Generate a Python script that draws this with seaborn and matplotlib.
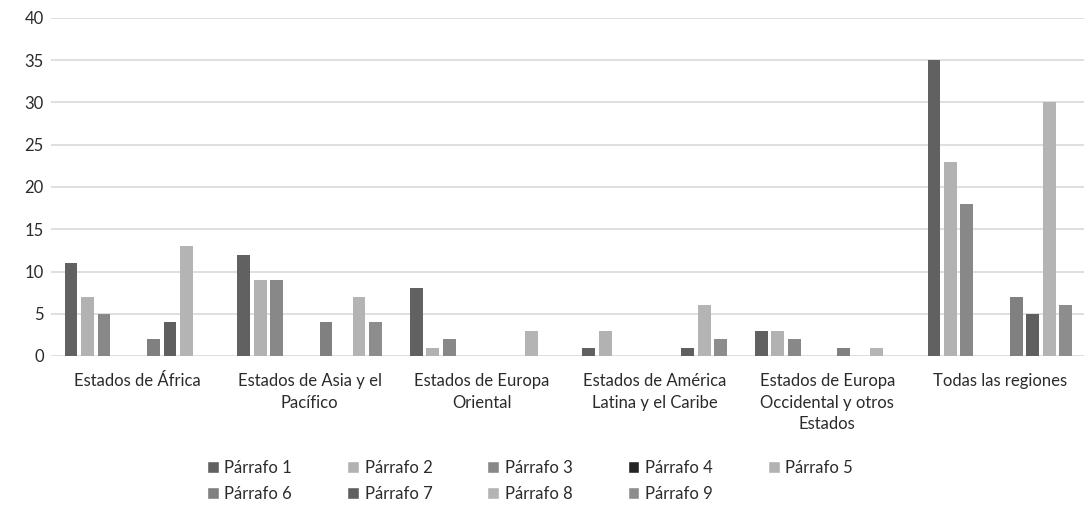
import seaborn as sns
import matplotlib.pyplot as plt
import pandas as pd
from matplotlib.patches import Patch

regions = ['Estados de África', 'Estados de Asia y el\nPacífico', 'Estados de Europa\nOriental',
           'Estados de América\nLatina y el Caribe', 'Estados de Europa\nOccidental y otros\nEstados',
           'Todas las regiones']
series = ['Párrafo 1', 'Párrafo 2', 'Párrafo 3', 'Párrafo 4', 'Párrafo 5',
          'Párrafo 6', 'Párrafo 7', 'Párrafo 8', 'Párrafo 9']
values = {
    'Párrafo 1': [11, 12, 8, 1, 3, 35],
    'Párrafo 2': [7, 9, 1, 3, 3, 23],
    'Párrafo 3': [5, 9, 2, 0, 2, 18],
    'Párrafo 4': [0, 0, 0, 0, 0, 0],
    'Párrafo 5': [0, 0, 0, 0, 0, 0],
    'Párrafo 6': [2, 4, 0, 0, 1, 7],
    'Párrafo 7': [4, 0, 0, 1, 0, 5],
    'Párrafo 8': [13, 7, 3, 6, 1, 30],
    'Párrafo 9': [0, 4, 0, 2, 0, 6],
}
colors = ['#616161', '#b2b2b2', '#888888', '#232323', '#b2b2b2',
          '#808080', '#5f5f5f', '#b4b4b4', '#8d8d8d']

rows = []
for s in series:
    for r, v in zip(regions, values[s]):
        rows.append({'region': r, 'serie': s, 'valor': v})
df = pd.DataFrame(rows)

sns.set_style('white')
plt.rcParams['font.family'] = ['Lato', 'DejaVu Sans']

fig = plt.figure(figsize=(10.84, 5.18), dpi=100)
ax = fig.add_axes([50.7 / 1084, 1 - 356 / 518, 1035.5 / 1084, 338 / 518])

sns.barplot(data=df, x='region', y='valor', hue='serie', palette=colors,
            width=0.86, gap=0.22, linewidth=0, legend=False, ax=ax)
for p in ax.patches:
    if p.get_height() == 0:
        p.set_visible(False)

ax.set_ylim(0, 40)
ax.set_yticks(range(0, 41, 5))
ax.set_xlim(-0.5, 5.5)
ax.yaxis.grid(True, color='#d9d9d9', linewidth=1.2)
ax.set_axisbelow(True)
for sp in ax.spines.values():
    sp.set_visible(False)
ax.tick_params(axis='both', length=0, labelsize=12, colors='#2b2b2b')
ax.tick_params(axis='x', pad=12)
ax.tick_params(axis='y', pad=5)
for t in ax.get_xticklabels():
    t.set_linespacing(1.45)
ax.set_xlabel('')
ax.set_ylabel('')

# legend filled row by row (matplotlib fills columns first)
handles = [Patch(facecolor=c, label=s) for c, s in zip(colors, series)]
order = [0, 5, 1, 6, 2, 7, 3, 8, 4]
fig.legend(handles=[handles[i] for i in order], loc='upper left', bbox_to_anchor=(0.177, 0.141),
           ncol=5, frameon=False, fontsize=12, handlelength=0.7, handleheight=0.7,
           handletextpad=0.35, columnspacing=3.3, labelspacing=0.6,
           labelcolor='#2b2b2b')

fig.savefig('out.png', dpi=100)
